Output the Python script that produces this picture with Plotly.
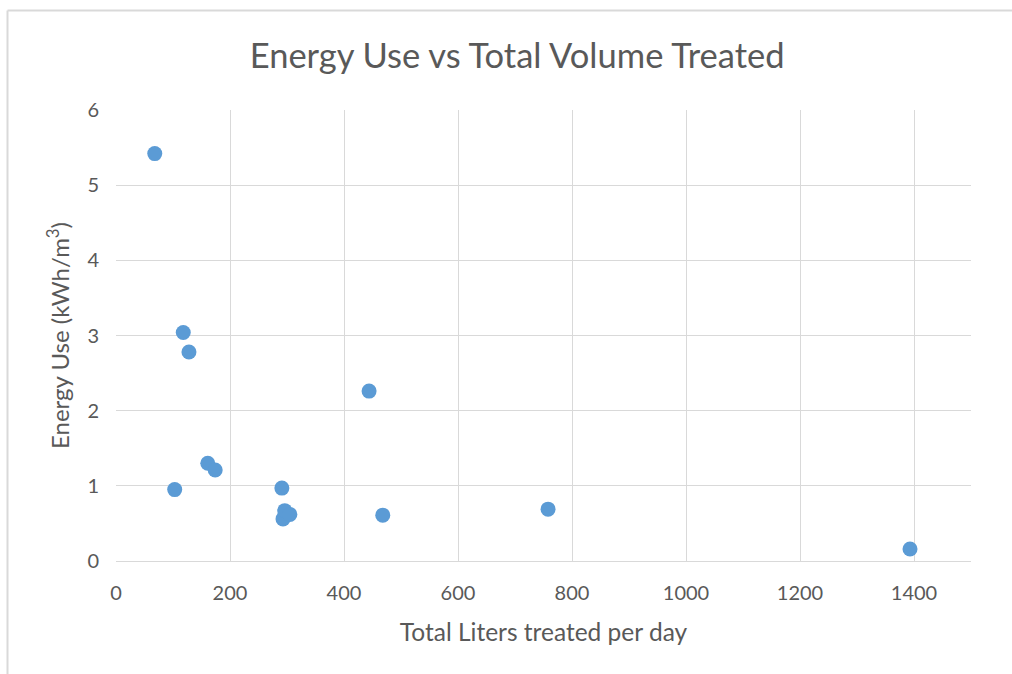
import plotly.graph_objects as go

# Daily treated volume (L/day) and specific energy use (kWh/m3)
liters_per_day = [68, 118, 128, 103, 161, 174, 291, 293, 296, 305, 444, 468, 758, 1393]
energy_kwh_m3 = [5.42, 3.04, 2.78, 0.95, 1.30, 1.21, 0.97, 0.56, 0.67, 0.62, 2.26, 0.61, 0.69, 0.16]

x_ticks = [0, 200, 400, 600, 800, 1000, 1200, 1400]
y_ticks = [0, 1, 2, 3, 4, 5, 6]

W, H = 1012, 674
ML, MR, MT, MB = 116, 41, 110, 113

text_color = "#595959"
grid_color = "#d9d9d9"
font_family = "Lato, 'Open Sans', sans-serif"

fig = go.Figure(
    go.Scatter(
        x=liters_per_day,
        y=energy_kwh_m3,
        mode="markers",
        marker=dict(color="#5b9bd5", size=15, line=dict(width=0)),
        hoverinfo="x+y",
    )
)

# outer frame of the chart area (top and left edges)
pw, ph = W - ML - MR, H - MT - MB
fx0 = (7.5 - ML) / pw
fy1 = 1 + (MT - 10.5) / ph
fy0 = -(MB + 10) / ph
fx1 = 1 + (MR + 10) / pw
fig.add_shape(type="line", xref="paper", yref="paper", x0=fx0, x1=fx1, y0=fy1, y1=fy1,
              line=dict(color=grid_color, width=2))
fig.add_shape(type="line", xref="paper", yref="paper", x0=fx0, x1=fx0, y0=fy0, y1=fy1,
              line=dict(color=grid_color, width=2))

fig.update_layout(
    width=W,
    height=H,
    margin=dict(l=ML, r=MR, t=MT, b=MB),
    paper_bgcolor="white",
    plot_bgcolor="white",
    showlegend=False,
    font=dict(family=font_family, color=text_color),
    title=dict(
        text="Energy Use vs Total Volume Treated",
        x=0.511,
        xanchor="center",
        y=1 - 56 / H,
        yanchor="middle",
        font=dict(size=34.5, color=text_color, family=font_family),
    ),
    xaxis=dict(
        range=[0, 1500],
        tickvals=x_ticks,
        showgrid=True,
        gridcolor=grid_color,
        gridwidth=1,
        zeroline=False,
        showline=True,
        linecolor=grid_color,
        linewidth=1,
        ticks="",
        tickfont=dict(size=20, color=text_color),
        ticklabelstandoff=14,
        title=dict(text="Total Liters treated per day", font=dict(size=24.5, color=text_color), standoff=20),
    ),
    yaxis=dict(
        range=[0, 6],
        tickvals=y_ticks,
        showgrid=True,
        gridcolor=grid_color,
        gridwidth=1,
        zeroline=False,
        showline=False,
        ticks="",
        tickfont=dict(size=20, color=text_color),
        ticklabelstandoff=16,
        title=dict(text="Energy Use (kWh/m<sup>3</sup>)", font=dict(size=24, color=text_color), standoff=10),
    ),
)

fig.write_html("out.html")
